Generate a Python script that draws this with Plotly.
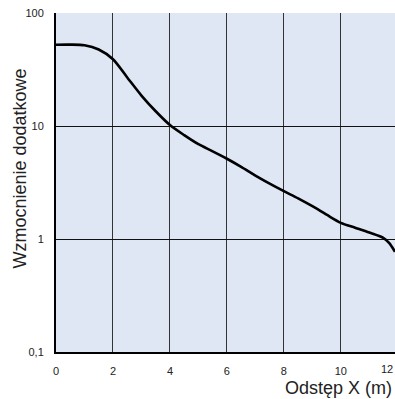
import plotly.graph_objects as go

x_vals = [0, 0.5, 1, 1.5, 2, 2.5, 3, 3.5, 4, 4.5, 5, 5.5, 6, 6.5, 7, 7.5, 8, 8.5, 9, 9.5, 10, 10.5, 11, 11.5, 11.7, 11.9]
y_vals = [52.4, 52.5, 51.8, 47.5, 39, 26.9, 18.6, 13.5, 10.2, 8.3, 6.9, 5.97, 5.13, 4.35, 3.64, 3.09, 2.65, 2.29, 1.95, 1.64, 1.39, 1.26, 1.14, 1.02, 0.92, 0.77]

x_ticks = [0, 2, 4, 6, 8, 10]
x_tick_text = ["0", "2", "4", "6", "8", "10"]
y_ticks = [0.1, 1, 10, 100]
y_tick_text = ["0,1", "1", "10", "100"]

x_title = "Odstęp X (m)"
y_title = "Wzmocnienie dodatkowe"

font_family = "Liberation Sans, Arial, sans-serif"

fig = go.Figure()
fig.add_trace(go.Scatter(
    x=x_vals, y=y_vals, mode="lines",
    line=dict(color="black", width=2.6, shape="spline", smoothing=0.8),
    showlegend=False, hoverinfo="skip"))

fig.update_layout(
    width=395, height=399,
    margin=dict(l=56, r=0, t=13, b=47),
    paper_bgcolor="white",
    plot_bgcolor="#dfe6f4",
    font=dict(family=font_family, color="#222", size=11),
    xaxis=dict(range=[0, 11.9], tickvals=x_ticks, ticktext=x_tick_text,
               showgrid=True, gridcolor="#333", gridwidth=1,
               showline=True, linecolor="black", linewidth=2,
               zeroline=False, ticks="", ticklabelstandoff=8,
               tickfont=dict(size=11, color="#222")),
    yaxis=dict(type="log", range=[-1, 2], tickvals=y_ticks, ticktext=y_tick_text,
               showgrid=True, gridcolor="#111", gridwidth=1,
               showline=True, linecolor="black", linewidth=2,
               zeroline=False, ticks="", ticklabelstandoff=8,
               tickfont=dict(size=11, color="#222")),
    annotations=[
        dict(text="12", x=1, y=0, xref="paper", yref="paper",
             xanchor="right", yanchor="top", yshift=-9, showarrow=False,
             font=dict(size=11, color="#222")),
        dict(text=x_title, x=1, y=0, xref="paper", yref="paper",
             xanchor="right", yanchor="middle", yshift=-36, xshift=-1, showarrow=False,
             font=dict(size=18, color="#222")),
        dict(text=y_title, x=0, y=0.5, xref="paper", yref="paper",
             xanchor="center", yanchor="middle", xshift=-37, yshift=14, textangle=-90,
             showarrow=False, font=dict(size=18, color="#222")),
    ],
)

fig.write_html("out.html", config={"displayModeBar": False},
               post_script="document.body.style.margin='0';document.body.style.overflow='hidden';")
